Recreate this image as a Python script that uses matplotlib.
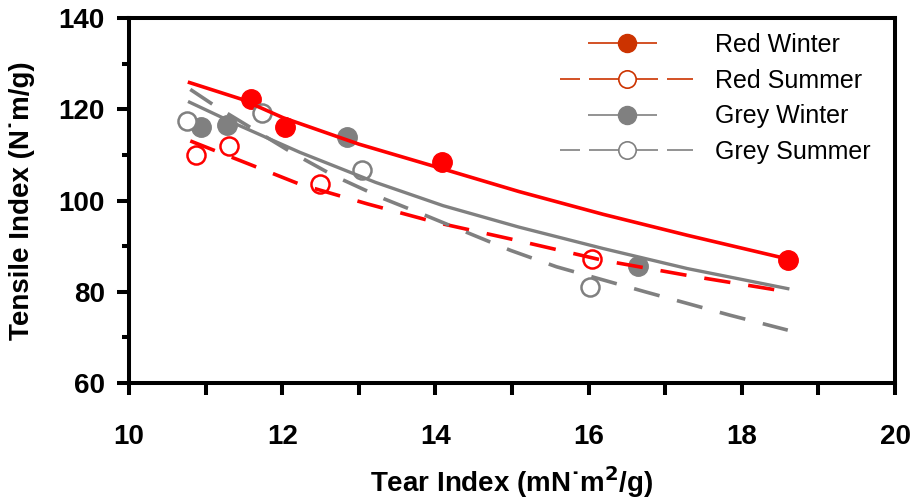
import matplotlib
matplotlib.use('Agg')
import matplotlib.pyplot as plt
from matplotlib.lines import Line2D

# measured points
red_winter_x = [11.59, 12.03, 14.09, 18.60]
red_winter_y = [122.3, 116.2, 108.4, 86.9]
red_summer_x = [10.87, 11.30, 12.49, 16.05]
red_summer_y = [110.0, 111.9, 103.6, 87.3]
grey_winter_x = [10.94, 11.28, 12.84, 16.65]
grey_winter_y = [116.2, 116.5, 114.0, 85.7]
grey_summer_x = [10.76, 11.74, 13.04, 16.02]
grey_summer_y = [117.45, 119.3, 106.8, 81.1]

# trend lines
rw_trend_x = [10.79, 11.46, 12.01, 13.00, 13.99, 15.09, 16.19, 17.29, 18.60]
rw_trend_y = [125.9, 122.3, 118.2, 112.4, 107.5, 102.0, 97.0, 92.4, 87.2]
rs_trend_x = [10.80, 11.57, 12.23, 13.11, 13.99, 14.98, 16.19, 17.29, 18.60]
rs_trend_y = [113.1, 108.0, 103.6, 99.3, 95.3, 91.6, 86.9, 83.6, 80.0]
gw_trend_x = [10.79, 11.41, 12.23, 13.22, 14.10, 15.09, 16.19, 17.29, 18.60]
gw_trend_y = [121.6, 116.7, 110.6, 104.0, 98.9, 94.2, 89.5, 85.1, 80.7]
gs_trend_x = [10.80, 11.13, 12.12, 12.67, 13.33, 13.88, 14.98, 15.58, 16.74, 17.84, 18.60]
gs_trend_y = [124.4, 120.7, 110.6, 105.5, 100.4, 96.7, 89.1, 85.5, 80.0, 74.9, 71.6]

labels = ['Red Winter', 'Red Summer', 'Grey Winter', 'Grey Summer']

plt.rcParams['font.family'] = ['Liberation Sans', 'DejaVu Sans']
plt.rcParams['lines.scale_dashes'] = False

fig = plt.figure(figsize=(9.13, 5.01), dpi=100)
ax = fig.add_axes([0.1413, 0.2355, 0.839, 0.728])

RED = '#ff0000'
GREY = '#808080'
ms = 14

# markers under the trend lines
ax.plot(red_winter_x, red_winter_y, 'o', color=RED, ms=ms, zorder=2)
ax.plot(red_summer_x, red_summer_y, 'o', mfc='white', mec=RED, mew=1.8, ms=ms - 1, zorder=2)
ax.plot(grey_winter_x, grey_winter_y, 'o', color=GREY, ms=ms, zorder=2)
ax.plot(grey_summer_x, grey_summer_y, 'o', mfc='white', mec=GREY, mew=1.8, ms=ms - 1, zorder=2)

ax.plot(rw_trend_x, rw_trend_y, '-', color=RED, lw=2.6, zorder=3)
ax.plot(rs_trend_x, rs_trend_y, color=RED, lw=2.6, dashes=(19, 13), zorder=3)
ax.plot(gw_trend_x, gw_trend_y, '-', color=GREY, lw=2.4, zorder=3)
ax.plot(gs_trend_x, gs_trend_y, color=GREY, lw=2.6, dashes=(19, 13), zorder=3)

ax.set_xlim(10, 20)
ax.set_ylim(60, 140)
ax.set_xticks(range(10, 21, 2))
ax.set_xticks(range(11, 20, 2), minor=True)
ax.set_yticks(range(60, 141, 20))
ax.set_yticks(range(70, 140, 20), minor=True)

for s in ax.spines.values():
    s.set_linewidth(2.9)
ax.tick_params(axis='both', which='both', direction='out', width=2.9)
ax.tick_params(axis='y', which='major', length=8.5, pad=9)
ax.tick_params(axis='y', which='minor', length=5)
ax.tick_params(axis='x', which='both', length=8.5, pad=21)
for t in ax.get_xticklabels() + ax.get_yticklabels():
    t.set_fontsize(20)
    t.set_fontweight('bold')

ax.set_xlabel('Tear Index (mN\u02d9m$^{\\mathbf{2}}$/g)', fontsize=20, fontweight='bold')
ax.set_ylabel('Tensile Index (N\u02d9m/g)', fontsize=20, fontweight='bold')
ax.xaxis.set_label_coords(0.5, -0.222)
ax.yaxis.set_label_coords(-0.123, 0.5)

# legend (own colours, thin lines, Excel-like dashes)
LRED = '#cc3300'
px = 0.72
winter_ls = (105 * px, (69 * px, 64 * px))
summer_ls = (0, (20 * px, 9 * px, 69 * px, 9 * px, 26 * px, 0))
handles = [
    Line2D([], [], color=LRED, lw=1.2, marker='o', ms=13, mfc=LRED, mec=LRED, linestyle=winter_ls),
    Line2D([], [], color=LRED, lw=1.2, marker='o', ms=12.5, mfc='white', mec=LRED, mew=1.2,
           linestyle=summer_ls),
    Line2D([], [], color=GREY, lw=1.2, marker='o', ms=13, mfc=GREY, mec=GREY, linestyle=winter_ls),
    Line2D([], [], color=GREY, lw=1.2, marker='o', ms=12.5, mfc='white', mec=GREY, mew=1.2,
           linestyle=summer_ls),
]
ax.legend(handles, labels, loc='upper left', bbox_to_anchor=(0.563, 0.96),
          frameon=False, fontsize=18, handlelength=5.3, handletextpad=0.88,
          labelspacing=0.47, borderpad=0, borderaxespad=0)

fig.savefig('out.png', dpi=100, facecolor='white')
